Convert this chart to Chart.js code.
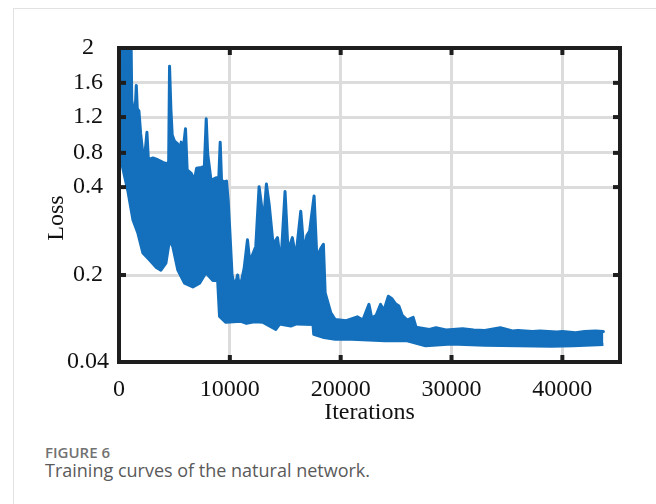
<!DOCTYPE html>
<html>
<head>
<meta charset="utf-8">
<script src="https://cdn.jsdelivr.net/npm/chart.js@4/dist/chart.umd.min.js"></script>
<style>
  html, body { margin: 0; padding: 0; background: #fff; overflow: hidden; }
  body { width: 656px; height: 504px; position: relative; }
  .card { position: absolute; left: 13px; top: 8px; width: 720px; height: 600px; border: 1px solid #e2e2e2; }
  #wrap { position: absolute; left: 0; top: 0; width: 656px; height: 430px; }
  .fig { position: absolute; left: 45px; top: 445px; font: 600 15px/15px "Open Sans", sans-serif; color: #727272; }
  .cap { position: absolute; left: 45px; top: 461px; font: 400 18px/18px "Open Sans", sans-serif; color: #5a5a5a; white-space: nowrap; }
</style>
</head>
<body>
<div class="card"></div>
<div id="wrap"><canvas id="lossChart"></canvas></div>
<div class="fig">FIGURE 6</div>
<div class="cap">Training curves of the natural network.</div>

<script>
// upper edge of the loss band (iteration, loss) - spikes included
const upperIter = [0, 100, 1080, 1150, 1260, 1450, 1560, 1650, 1800, 1950, 2150, 2350, 2520, 2650,
    3060, 3500, 3960, 4350, 4480, 4560, 4680, 4800, 5010, 5300, 5450, 5610, 5750, 6000, 6150,
    6520, 6800, 7000, 7420, 7700, 7870, 8000, 8300, 8800, 9000, 9130, 9250, 9500, 9700, 9850,
    10000, 10200, 10450, 10700, 10900, 11290, 11590, 11800, 12340, 12640, 12900, 13100, 13300,
    13550, 13900, 14300, 14600, 14980, 15250, 15640, 15950, 16400, 16700, 16950, 17200, 17600,
    17850, 18200, 18440, 18600, 19100, 19500, 20500, 21500, 22000, 22550, 22800, 23200, 23600,
    23900, 24300, 24600, 24950, 25250, 25550, 26000, 26540, 26800, 28000, 28600, 29500, 31000,
    32000, 33000, 34400, 35500, 36000, 37300, 38000, 39500, 40000, 41200, 42000, 43000, 43700];
const upperLoss = [0.85, 2.2, 2.2, 1.4, 1.31, 1.25, 1.57, 1.3, 1.27, 1.02, 0.79, 0.8, 1.03, 0.72,
    0.74, 0.72, 0.69, 0.67, 0.7, 1.79, 1.3, 1.0, 0.93, 0.9, 0.8, 0.92, 0.79, 1.07, 0.6,
    0.56, 0.48, 0.62, 0.63, 0.64, 1.18, 0.79, 0.48, 0.51, 0.5, 0.92, 0.48, 0.46, 0.47, 0.37,
    0.3, 0.2, 0.178, 0.2, 0.175, 0.215, 0.28, 0.23, 0.265, 0.405, 0.35, 0.34, 0.435,
    0.36, 0.27, 0.285, 0.225, 0.39, 0.255, 0.285, 0.24, 0.345, 0.25, 0.29, 0.3, 0.38,
    0.24, 0.26, 0.27, 0.167, 0.131, 0.118, 0.116, 0.123, 0.117, 0.146, 0.121, 0.126, 0.146,
    0.135, 0.161, 0.157, 0.147, 0.143, 0.126, 0.117, 0.122, 0.104, 0.1, 0.103, 0.099, 0.101,
    0.099, 0.098, 0.103, 0.097, 0.098, 0.096, 0.097, 0.095, 0.096, 0.094, 0.096, 0.097, 0.096];

// lower edge of the loss band
const lowerIter = [0, 810, 1260, 1710, 2160, 2760, 3330, 3780, 4230, 4560, 4860, 5310, 5910,
    6660, 7270, 7840, 8470, 8900, 9070, 9640, 11000, 11500, 12200, 13000, 14150, 14500, 15500,
    16000, 17500, 17570, 18500, 19500, 21000, 24000, 26000, 27660, 30000, 33000, 36000, 39000,
    41000, 43700];
const lowerLoss = [0.82, 0.39, 0.325, 0.295, 0.25, 0.234, 0.218, 0.211, 0.227, 0.28, 0.264, 0.211, 0.185,
    0.178, 0.185, 0.205, 0.19, 0.19, 0.124, 0.113, 0.115, 0.111, 0.114, 0.113, 0.1, 0.11, 0.106,
    0.11, 0.109, 0.091, 0.085, 0.082, 0.082, 0.079, 0.079, 0.07, 0.073, 0.071, 0.07, 0.069,
    0.07, 0.072];

const xTickValues = [0, 10000, 20000, 30000, 40000];
const yTickValues = [0.04, 0.2, 0.4, 0.8, 1.2, 1.6, 2];

// where each y tick sits on the axis (0 = bottom, 1 = top) - the original axis is not linear
const yTickFrac = [0, 0.277, 0.557, 0.666, 0.780, 0.889, 1];

const BLUE = '#1470bc';
const INK = '#1e1e1e';
const SERIF = '"Liberation Serif", "Times New Roman", serif';

function lossToFrac(v) {
    const n = yTickValues.length;
    let i = 0;
    while (i < n - 2 && v > yTickValues[i + 1]) i++;
    const t = (v - yTickValues[i]) / (yTickValues[i + 1] - yTickValues[i]);
    return yTickFrac[i] + t * (yTickFrac[i + 1] - yTickFrac[i]);
}

function fracToLoss(f) {
    const n = yTickFrac.length;
    let i = 0;
    while (i < n - 2 && f > yTickFrac[i + 1]) i++;
    const t = (f - yTickFrac[i]) / (yTickFrac[i + 1] - yTickFrac[i]);
    return yTickValues[i] + t * (yTickValues[i + 1] - yTickValues[i]);
}

// piecewise linear scale so the ticks land where the original ones are
class PiecewiseScale extends Chart.LinearScale {
    buildTicks() {
        return yTickValues.map(v => ({ value: v }));
    }
    getPixelForValue(value) {
        return this.getPixelForDecimal(lossToFrac(value));
    }
    getValueForPixel(pixel) {
        return fracToLoss(this.getDecimalForPixel(pixel));
    }
}
PiecewiseScale.id = 'piecewise';
PiecewiseScale.defaults = {};
Chart.register(PiecewiseScale);

// box round the plot, inside tick marks and the rotated y title
const framePlugin = {
    id: 'frame',
    afterDatasetsDraw(chart) {
        const { ctx, chartArea: a, scales: { x, y } } = chart;
        ctx.save();
        ctx.fillStyle = INK;
        x.ticks.forEach((t, i) => {
            const px = x.getPixelForTick(i);
            ctx.fillRect(px - 2, a.top, 4, 7);
            ctx.fillRect(px - 2, a.bottom - 7, 4, 7);
        });
        y.ticks.forEach((t, i) => {
            const py = y.getPixelForTick(i);
            ctx.fillRect(a.left, py - 2, 7, 4);
            ctx.fillRect(a.right - 7, py - 2, 7, 4);
        });
        ctx.strokeStyle = INK;
        ctx.lineWidth = 4;
        ctx.strokeRect(a.left, a.top, a.right - a.left, a.bottom - a.top);

        ctx.translate(57, 218);
        ctx.rotate(-Math.PI / 2);
        ctx.fillStyle = '#111';
        ctx.font = '24px ' + SERIF;
        ctx.textAlign = 'center';
        ctx.textBaseline = 'middle';
        ctx.fillText('Loss', 0, 0);
        ctx.restore();
    }
};

const ctx = document.getElementById('lossChart').getContext('2d');

new Chart(ctx, {
    type: 'line',
    data: {
        datasets: [
            {
                label: 'upper',
                data: upperIter.map((it, i) => ({ x: it, y: upperLoss[i] })),
                borderColor: BLUE,
                backgroundColor: BLUE,
                borderWidth: 3,
                borderJoinStyle: 'round',
                borderCapStyle: 'round',
                pointRadius: 0,
                tension: 0,
                fill: '+1',
                clip: 0
            },
            {
                label: 'lower',
                data: lowerIter.map((it, i) => ({ x: it, y: lowerLoss[i] })),
                borderColor: BLUE,
                backgroundColor: BLUE,
                borderWidth: 3,
                borderJoinStyle: 'round',
                pointRadius: 0,
                tension: 0,
                fill: false,
                clip: 0
            }
        ]
    },
    options: {
        responsive: true,
        maintainAspectRatio: false,
        animation: false,
        layout: { padding: { top: 48, right: 36, left: 0, bottom: 0 } },
        plugins: {
            legend: { display: false },
            tooltip: { enabled: false }
        },
        scales: {
            x: {
                type: 'linear',
                min: 0,
                max: 45200,
                afterFit: scale => { scale.height = 68; },
                afterBuildTicks: scale => { scale.ticks = xTickValues.map(v => ({ value: v })); },
                grid: { color: '#dcdcdc', lineWidth: 3, drawTicks: false },
                border: { display: false },
                ticks: {
                    color: '#111',
                    padding: 13,
                    maxRotation: 0,
                    font: { family: SERIF, size: 24 },
                    callback: v => String(v)
                },
                title: {
                    display: true,
                    text: 'Iterations',
                    color: '#111',
                    padding: { top: 0, bottom: 3 },
                    font: { family: SERIF, size: 24 }
                }
            },
            y: {
                type: 'piecewise',
                min: 0.04,
                max: 2,
                afterFit: scale => { scale.width = 119; },
                grid: { color: '#dcdcdc', lineWidth: 3, drawTicks: false },
                border: { display: false },
                ticks: {
                    color: '#111',
                    padding: 10,
                    crossAlign: 'center',
                    font: { family: SERIF, size: 24 },
                    callback: v => String(v)
                }
            }
        }
    },
    plugins: [framePlugin]
});
</script>
</body>
</html>
